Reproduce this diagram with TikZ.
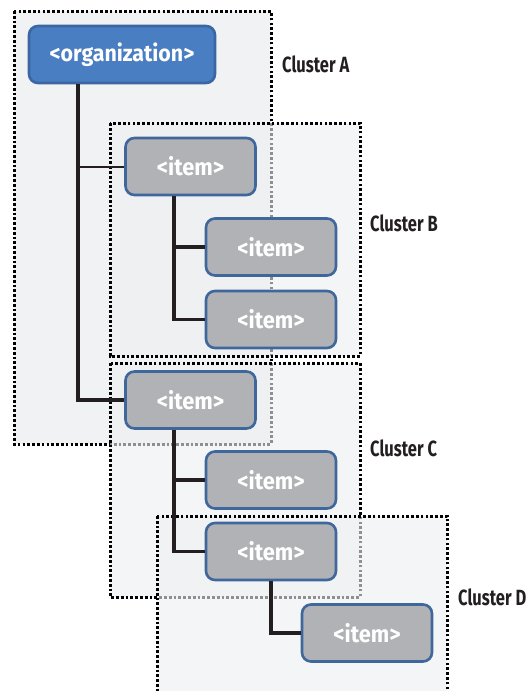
\documentclass[tikz,border=0pt]{standalone}
\usepackage{fontspec}
\setmainfont{Fira Sans}[FakeStretch=0.75,BoldFont={Fira Sans Bold}]
\newfontfamily\boxfont{Fira Sans Bold}[FakeStretch=0.93]
\begin{document}
\begin{tikzpicture}[x=1pt,y=-1pt,
  clusterbox/.style={line width=3pt,dash pattern=on 2.7pt off 2.1pt,draw=black},
  orgbox/.style={draw=orgline,fill=orgfill,line width=2.6pt,rounded corners=9pt,
    minimum width=186pt,minimum height=57pt,inner sep=0pt,
    text=white,font=\boxfont\fontsize{23}{23}\selectfont},
  itembox/.style={draw=itemline,fill=itemfill,line width=2.6pt,rounded corners=9pt,
    minimum width=130pt,minimum height=57pt,inner sep=0pt,
    text=white,font=\boxfont\fontsize{23.5}{23.5}\selectfont},
  link/.style={line width=3.2pt,draw=linkcol},
  thinlink/.style={line width=2pt,draw=linkcol},
  clusterlabel/.style={anchor=base west,inner sep=0pt,text=linkcol,
    font=\fontsize{22}{22}\selectfont\bfseries}
]
\definecolor{orgfill}{HTML}{4A7EC2}
\definecolor{orgline}{HTML}{3A66A2}
\definecolor{itemfill}{HTML}{B1B2B5}
\definecolor{itemline}{HTML}{3F679B}
\definecolor{linkcol}{HTML}{231F20}
\definecolor{clusterfill}{HTML}{F0F2F4}
\definecolor{clusterfillB}{HTML}{EDEFF1}

\useasboundingbox (0,0) rectangle (528,691);
\clip (0,0) rectangle (528,691);

% cluster regions, each later one laid over the earlier ones
\fill[clusterfill] (14,11) rectangle (271,444);
\draw[clusterbox] (14,11) rectangle (271,444);
\fill[clusterfillB,fill opacity=0.6] (110,123) rectangle (360,356);
\draw[clusterbox] (110,123) rectangle (360,356);
\fill[clusterfillB,fill opacity=0.6] (110,363) rectangle (360,597);
\draw[clusterbox] (110,363) rectangle (360,597);
\fill[clusterfillB,fill opacity=0.6] (157,516) rectangle (447,700);
\draw[clusterbox] (157,516) rectangle (447,700);

% tree nodes
\node[orgbox]  (org)   at (122,54.5)  {<organization>};
\node[itembox] (itemA) at (190.5,166.5) {<item>};
\node[itembox] (itemB) at (271,247)   {<item>};
\node[itembox] (itemC) at (271,319.5) {<item>};
\node[itembox] (itemD) at (190.5,400) {<item>};
\node[itembox] (itemE) at (271,480)   {<item>};
\node[itembox] (itemF) at (271,551.5) {<item>};
\node[itembox] (itemG) at (367,633)   {<item>};

% connectors
\coordinate (orgtrunk) at (78,0);
\coordinate (atrunk) at (174,0);
\coordinate (dtrunk) at (174,0);
\coordinate (ftrunk) at (271,0);
\draw[thinlink] (orgtrunk |- itemA.west) -- (itemA.west);
\draw[link] (orgtrunk |- org.south) -- (orgtrunk |- itemD.west) -- (itemD.west);
\draw[link] (atrunk |- itemA.south) -- (atrunk |- itemC.west) -- (itemC.west);
\draw[link] (atrunk |- itemB.west) -- (itemB.west);
\draw[link] (dtrunk |- itemD.south) -- (dtrunk |- itemF.west) -- (itemF.west);
\draw[link] (dtrunk |- itemE.west) -- (itemE.west);
\draw[link] (ftrunk |- itemF.south) -- (ftrunk |- itemG.west) -- (itemG.west);

% cluster names
\node[clusterlabel] (labA) at (282,72)  {Cluster A};
\node[clusterlabel] (labB) at (370,231) {Cluster B};
\node[clusterlabel] (labC) at (370,456) {Cluster C};
\node[clusterlabel] (labD) at (458,605) {Cluster D};
\end{tikzpicture}
\end{document}
